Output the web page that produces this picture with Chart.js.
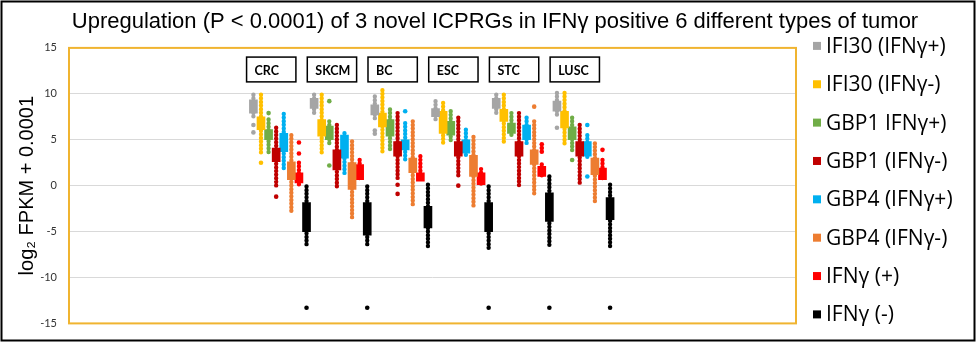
<!DOCTYPE html>
<html>
<head>
<meta charset="utf-8">
<script src="https://cdn.jsdelivr.net/npm/chart.js@4.4.0/dist/chart.umd.min.js"></script>
<style>
  html, body { margin: 0; padding: 0; background: #ffffff; }
</style>
</head>
<body>
<canvas id="chartjs" width="976" height="342"></canvas>
<script>
// tumour types, left to right
var tumors = ["CRC", "SKCM", "BC", "ESC", "STC", "LUSC"];

var seriesNames = [
  "IFI30 (IFNγ+)", "IFI30 (IFNγ-)", "GBP1 IFNγ+)", "GBP1 (IFNγ-)",
  "GBP4 (IFNγ+)", "GBP4 (IFNγ-)", "IFNγ (+)", "IFNγ (-)"
];

var yTicks = [-15, -10, -5, 0, 5, 10, 15];

// one row per tumour: [lowest dot, box bottom, box top, highest dot]
var ifi30Pos = [[7.2, 7.9, 9.35, 9.9], [7.9, 8.4, 9.5, 9.9], [7.2, 7.7, 8.8, 9.7], [7.2, 7.5, 8.4, 9.2], [7.9, 8.4, 9.5, 9.9], [7.4, 8.1, 9.2, 10.1]];
var ifi30Neg = [[3.4, 6.1, 7.5, 9.9], [3.55, 5.4, 7.2, 9.9], [3.4, 6.4, 7.9, 10.4], [4.5, 5.7, 8.1, 9.0], [4.8, 7.0, 8.3, 9.9], [4.3, 6.3, 8.1, 10.1]];
var gbp1Pos = [[3.55, 5.0, 6.1, 7.2], [4.6, 5.0, 6.5, 7.0], [3.9, 5.4, 7.2, 8.3], [4.8, 5.5, 7.0, 8.1], [5.4, 5.7, 6.8, 7.9], [3.7, 5.0, 6.4, 7.4]];
var gbp1Neg = [[-0.1, 2.6, 4.1, 6.3], [-0.4, 1.7, 3.9, 6.6], [0.8, 3.2, 4.8, 7.9], [1.0, 3.2, 4.8, 7.4], [-0.1, 3.2, 4.8, 7.9], [0.1, 3.2, 4.8, 6.6]];
var gbp4Pos = [[1.9, 3.7, 5.7, 7.8], [1.2, 3.0, 5.5, 5.7], [2.6, 3.9, 5.0, 6.8], [3.2, 3.55, 5.0, 6.1], [4.3, 5.0, 6.6, 7.4], [2.8, 3.2, 4.8, 5.5]];
var gbp4Neg = [[-2.9, 0.65, 2.6, 5.5], [-3.7, -0.4, 2.5, 4.8], [-2.4, 1.4, 3.0, 7.0], [-2.2, 1.0, 3.3, 5.3], [-1.0, 2.3, 3.9, 7.0], [-1.7, 1.2, 3.0, 4.6]];
var ifngPos = [[0.0, 0.3, 1.4, 2.5], [0.65, 0.65, 2.3, 2.8], [0.5, 0.5, 1.4, 3.2], [0.1, 0.1, 1.4, 1.8], [0.8, 1.0, 2.1, 2.3], [0.65, 0.65, 1.9, 2.8]];
var ifngNeg = [[-6.6, -5.0, -1.85, -0.1], [-6.6, -5.4, -1.85, -0.1], [-6.6, -4.6, -2.25, 0.1], [-7.0, -5.0, -1.85, -0.1], [-6.8, -3.9, -0.77, 1.0], [-6.6, -3.7, -1.3, 0.1]];

// single dots that sit apart from the bead column
var ifi30PosOut = [[6.6, 5.8], [], [6.0, 5.65], [], [], [6.3]];
var ifi30NegOut = [[2.5], [], [], [], [], []];
var gbp1PosOut = [[7.9], [9.2, 2.2], [], [], [], [2.8]];
var gbp1NegOut = [[-1.2], [], [0.1, -0.9], [0.0], [], []];
var gbp4PosOut = [[], [], [8.1], [], [], [6.6, 1.0]];
var gbp4NegOut = [[], [], [], [], [8.6], []];
var ifngPosOut = [[4.7, 3.5], [], [], [], [4.5, 4.1, 3.7], [3.9]];
var ifngNegOut = [[-13.3], [-13.3], [], [-13.3], [-13.3], [-13.3]];

var colors = ["#A5A5A5", "#FFC000", "#70AD47", "#C00000", "#00B0F0", "#ED7D31", "#FF0000", "#000000"];

var allBoxes = [ifi30Pos, ifi30Neg, gbp1Pos, gbp1Neg, gbp4Pos, gbp4Neg, ifngPos, ifngNeg];
var allOut = [ifi30PosOut, ifi30NegOut, gbp1PosOut, gbp1NegOut, gbp4PosOut, gbp4NegOut, ifngPosOut, ifngNegOut];

// x position: 8 slots per tumour, one per series
function slot(g, s) { return 8 * g + s; }

var datasets = [];

// boxes (drawn on top)
for (var s = 0; s < 8; s++) {
  datasets.push({
    type: "bar",
    label: seriesNames[s],
    data: tumors.map(function (t, g) {
      return { x: slot(g, s), y: [allBoxes[s][g][1], allBoxes[s][g][2]] };
    }),
    backgroundColor: colors[s],
    borderWidth: 0,
    barThickness: 8,
    grouped: false,
    order: 0
  });
}

// bead columns: a dotted line from highest to lowest dot
for (var s = 0; s < 8; s++) {
  var beads = [];
  for (var g = 0; g < tumors.length; g++) {
    beads.push({ x: slot(g, s), y: allBoxes[s][g][3] });
    beads.push({ x: slot(g, s), y: allBoxes[s][g][0] });
    beads.push({ x: slot(g, s), y: null });
  }
  datasets.push({
    type: "line",
    label: "beads" + s,
    data: beads,
    borderColor: colors[s],
    borderWidth: 4.4,
    borderDash: [0, 3.6],
    borderCapStyle: "round",
    pointRadius: 0,
    spanGaps: false,
    fill: false,
    order: 1
  });
}

// separate dots
for (var s = 0; s < 8; s++) {
  var pts = [];
  for (var g = 0; g < tumors.length; g++) {
    allOut[s][g].forEach(function (v) { pts.push({ x: slot(g, s), y: v }); });
  }
  datasets.push({
    type: "scatter",
    label: "dots" + s,
    data: pts,
    backgroundColor: colors[s],
    borderWidth: 0,
    pointRadius: 2.3,
    order: 1
  });
}

// frame, tumour labels, legend and outer border
var decor = {
  id: "decor",
  afterDraw: function (chart) {
    var ctx = chart.ctx;
    var a = chart.chartArea;
    var xs = chart.scales.x, ys = chart.scales.y;
    ctx.save();

    ctx.strokeStyle = "#F0B430";
    ctx.lineWidth = 2;
    ctx.strokeRect(a.left, a.top, a.right - a.left, a.bottom - a.top);

    ctx.font = "bold 12.5px Lato";
    ctx.textAlign = "left";
    ctx.textBaseline = "middle";
    tumors.forEach(function (t, g) {
      var l = xs.getPixelForValue(8 * g - 0.9);
      var r = xs.getPixelForValue(8 * g + 5.6);
      var tp = ys.getPixelForValue(14.0);
      var bt = ys.getPixelForValue(11.3);
      ctx.fillStyle = "#ffffff";
      ctx.fillRect(l, tp, r - l, bt - tp);
      ctx.strokeStyle = "#000000";
      ctx.lineWidth = 1.5;
      ctx.strokeRect(l, tp, r - l, bt - tp);
      ctx.fillStyle = "#000000";
      ctx.fillText(t, l + 8, (tp + bt) / 2 + 1);
    });

    // legend, rows spread from the frame top down to just above its bottom
    var lx = a.right + 17;
    var top = a.top - 2;
    var step = (a.bottom - a.top - 7) / 7;
    ctx.font = "21px 'Open Sans'";
    seriesNames.forEach(function (name, i) {
      var cy = top + i * step;
      ctx.fillStyle = colors[i];
      ctx.fillRect(lx, cy - 4, 8, 8);
      ctx.fillStyle = "#000000";
      ctx.fillText(name, lx + 13, cy + 1);
    });

    ctx.strokeStyle = "#000000";
    ctx.lineWidth = 2;
    ctx.strokeRect(1.5, 1.5, chart.width - 3, chart.height - 3);
    ctx.restore();
  }
};

var ctx0 = document.getElementById("chartjs");
var myChart = new Chart(ctx0, {
  type: "scatter",
  data: { datasets: datasets },
  options: {
    responsive: false,
    animation: false,
    layout: { padding: { top: 4, right: 0, bottom: 17, left: 14 } },
    plugins: {
      legend: { display: false },
      tooltip: { enabled: false },
      title: {
        display: true,
        text: "Upregulation (P < 0.0001) of 3 novel ICPRGs in IFNγ positive 6 different types of tumor",
        color: "#000000",
        font: { family: "'Liberation Sans', Arial", size: 22, weight: "normal" },
        padding: { top: 4.5, bottom: 13 }
      }
    },
    scales: {
      x: {
        type: "linear",
        min: -24.3,
        max: 71.5,
        offset: false,
        display: false
      },
      y: {
        min: yTicks[0],
        max: yTicks[yTicks.length - 1],
        afterBuildTicks: function (scale) {
          scale.ticks = yTicks.map(function (v) { return { value: v }; });
        },
        afterFit: function (scale) { scale.width = 55; },
        border: { display: false },
        grid: { color: "#D9D9D9", drawTicks: false },
        ticks: {
          padding: 12,
          color: "#333333",
          font: { family: "Lato", size: 11 }
        },
        title: {
          display: true,
          text: "log₂ FPKM + 0.0001",
          color: "#000000",
          font: { family: "'Liberation Sans', Arial", size: 20 },
          padding: { top: 1, bottom: 0 }
        }
      },
      // empty right-hand axis that keeps room for the legend column
      yr: {
        position: "right",
        afterFit: function (scale) { scale.width = 180; },
        border: { display: false },
        grid: { display: false },
        ticks: { display: false }
      }
    }
  },
  plugins: [decor]
});
</script>
</body>
</html>
